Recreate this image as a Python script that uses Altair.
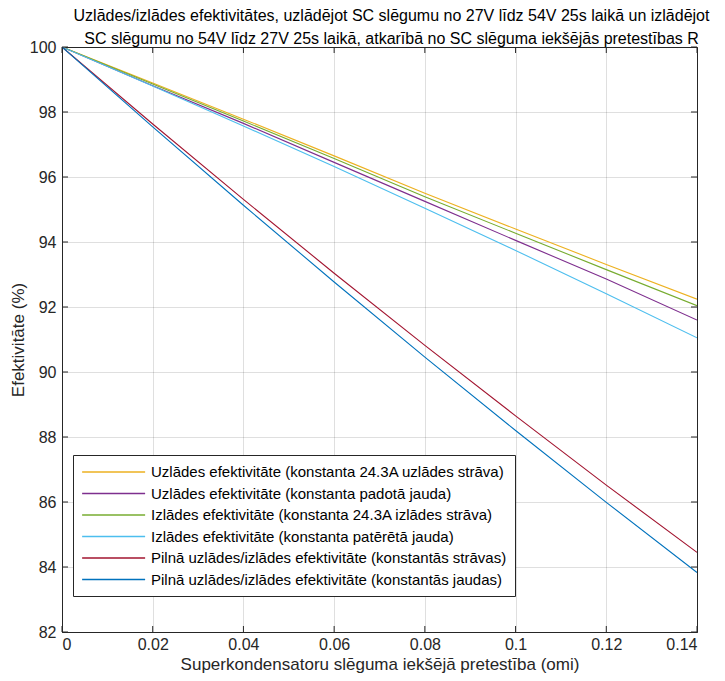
import altair as alt
import pandas as pd

R = [0.0, 0.02, 0.04, 0.06, 0.08, 0.10, 0.12, 0.14]

series_names = [
    "Uzlādes efektivitāte (konstanta 24.3A uzlādes strāva)",
    "Uzlādes efektivitāte (konstanta padotā jauda)",
    "Izlādes efektivitāte (konstanta 24.3A izlādes strāva)",
    "Izlādes efektivitāte (konstanta patērētā jauda)",
    "Pilnā uzlādes/izlādes efektivitāte (konstantās strāvas)",
    "Pilnā uzlādes/izlādes efektivitāte (konstantās jaudas)",
]
colors = ["#EDB120", "#7E2F8E", "#77AC30", "#4DBEEE", "#A2142F", "#0072BD"]

charge_current = [100, 98.89, 97.78, 96.65, 95.50, 94.40, 93.31, 92.24]
charge_power = [100, 98.81, 97.65, 96.45, 95.25, 94.05, 92.86, 91.60]
discharge_current = [100, 98.86, 97.72, 96.57, 95.39, 94.27, 93.15, 92.04]
discharge_power = [100, 98.80, 97.57, 96.32, 95.04, 93.74, 92.41, 91.05]
full_current = [100, 97.63, 95.31, 93.04, 90.82, 88.65, 86.52, 84.45]
full_power = [100, 97.54, 95.13, 92.77, 90.46, 88.20, 85.99, 83.83]

x_ticks = [0, 0.02, 0.04, 0.06, 0.08, 0.10, 0.12, 0.14]
y_ticks = [82, 84, 86, 88, 90, 92, 94, 96, 98, 100]

all_series = [charge_current, charge_power, discharge_current, discharge_power, full_current, full_power]
rows = []
for name, vals in zip(series_names, all_series):
    for r, v in zip(R, vals):
        rows.append({"R": r, "eff": v, "series": name})
df = pd.DataFrame(rows)

W, H = 635, 585
FONT = "Liberation Sans"
AX = "#262626"

xscale = alt.Scale(domain=[0, 0.14], nice=False, zero=False)
yscale = alt.Scale(domain=[82, 100], nice=False, zero=False)

lines = alt.Chart(df).mark_line(strokeWidth=1.1, clip=True).encode(
    x=alt.X("R:Q", scale=xscale,
            axis=alt.Axis(values=x_ticks, format="~g", title="Superkondensatoru slēguma iekšējā pretestība (omi)",
                          grid=True, tickSize=0, labelPadding=4, titlePadding=4)),
    y=alt.Y("eff:Q", scale=yscale,
            axis=alt.Axis(values=y_ticks, format="d", title="Efektivitāte (%)",
                          grid=True, tickSize=0, labelPadding=6, titlePadding=2)),
    color=alt.Color("series:N", scale=alt.Scale(domain=series_names, range=colors),
                    legend=alt.Legend(title=None, orient="none", legendX=11, legendY=408,
                                      symbolType="M-1,0H7", symbolSize=248, symbolStrokeWidth=1.5,
                                      labelFontSize=15, labelLimit=600, labelOffset=52, rowPadding=4.5,
                                      padding=8, strokeColor=AX, fillColor="white",
                                      labelColor="black", labelFont=FONT)),
    order=alt.Order("R:Q"),
)

xt = pd.DataFrame({"t": x_ticks})
yt = pd.DataFrame({"t": y_ticks})
xb = alt.Chart(xt).mark_rule(color=AX, strokeWidth=1).encode(x=alt.X("t:Q", scale=xscale), y=alt.value(H), y2=alt.value(H - 6))
xtop = alt.Chart(xt).mark_rule(color=AX, strokeWidth=1).encode(x=alt.X("t:Q", scale=xscale), y=alt.value(0), y2=alt.value(6))
yl = alt.Chart(yt).mark_rule(color=AX, strokeWidth=1).encode(y=alt.Y("t:Q", scale=yscale), x=alt.value(0), x2=alt.value(6))
yr = alt.Chart(yt).mark_rule(color=AX, strokeWidth=1).encode(y=alt.Y("t:Q", scale=yscale), x=alt.value(W), x2=alt.value(W - 6))

chart = alt.layer(lines, xb, xtop, yl, yr).properties(
    width=W, height=H,
    autosize=alt.AutoSizeParams(type="none"),
    padding={"left": 54, "top": 39, "right": 20, "bottom": 41},
    title=alt.TitleParams(
        text=["Uzlādes/izlādes efektivitātes, uzlādējot SC slēgumu no 27V līdz 54V 25s laikā un izlādējot",
              "SC slēgumu no 54V līdz 27V 25s laikā, atkarībā no SC slēguma iekšējās pretestības R"],
        fontSize=16, font=FONT, fontWeight="normal", color="black", lineHeight=23,
        anchor="middle", offset=4, dx=12, dy=12),
).configure_view(stroke=AX, strokeWidth=1).configure_axis(
    domainColor=AX, domainWidth=1, gridColor=AX, gridOpacity=0.15, gridWidth=1,
    labelFont=FONT, titleFont=FONT, labelFontSize=16, titleFontSize=17,
    labelColor=AX, titleColor=AX, titleFontWeight="normal",
)

chart.save("out.html", embed_options={"renderer": "svg", "actions": False})
